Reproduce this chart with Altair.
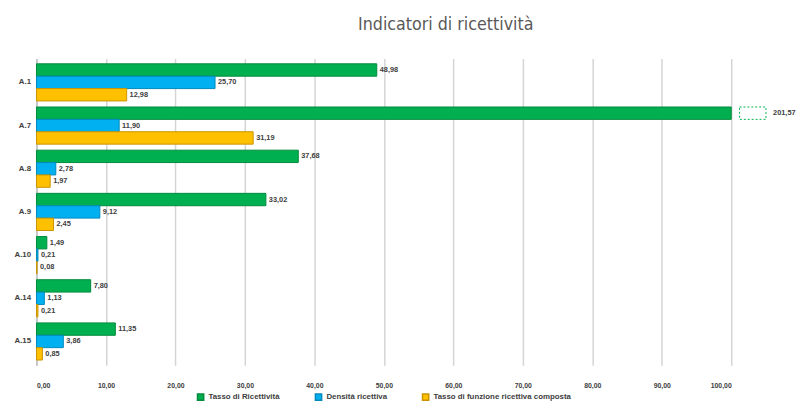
import altair as alt
import pandas as pd

categories = ["A.1", "A.7", "A.8", "A.9", "A.10", "A.14", "A.15"]
series = ["Tasso di Ricettività", "Densità ricettiva", "Tasso di funzione ricettiva composta"]
tasso_ricettivita = [48.98, 201.57, 37.68, 33.02, 1.49, 7.80, 11.35]
densita_ricettiva = [25.70, 11.90, 2.78, 9.12, 0.21, 1.13, 3.86]
tasso_funzione = [12.98, 31.19, 1.97, 2.45, 0.08, 0.21, 0.85]
colors = ["#00B050", "#00B0F0", "#FFC000"]
strokes = ["#008a3c", "#0089bb", "#c99400"]
x_ticks = [0, 10, 20, 30, 40, 50, 60, 70, 80, 90, 100]

rows = []
for s, vals in zip(series, [tasso_ricettivita, densita_ricettiva, tasso_funzione]):
    for c, v in zip(categories, vals):
        rows.append({"cat": c, "serie": s, "value": v})
df = pd.DataFrame(rows)

base = alt.Chart(df).transform_calculate(
    xb="min(datum.value, 100)",
    xt="datum.value > 100 ? 105.6 : datum.value",
    lbl="replace(format(datum.value, '.2f'), '.', ',')",
)

y_enc = alt.Y("cat:N", sort=categories, title=None,
              scale=alt.Scale(paddingInner=0.14, paddingOuter=0.12),
              axis=alt.Axis(labelFont="Liberation Sans", labelFontSize=8, labelFontWeight="bold",
                            labelColor="#404040", ticks=False, domain=True, domainColor="#bfbfbf",
                            domainWidth=1.5, labelPadding=6, minExtent=24, maxExtent=24))
yoff = alt.YOffset("serie:N", sort=series, scale=alt.Scale(paddingInner=0.0))

x_scale = alt.Scale(domain=[0, 100], nice=False, zero=True)

bars = base.mark_bar(strokeWidth=1, clip=False).encode(
    x=alt.X("xb:Q", scale=x_scale, title=None,
            axis=alt.Axis(values=x_ticks, labelExpr="replace(format(datum.value, '.2f'), '.', ',')",
                          labelFont="Liberation Sans", labelFontSize=7, labelFontWeight="bold",
                          labelColor="#404040", grid=True, gridColor="#d4d4d4", gridWidth=1.5,
                          domain=False, ticks=False, labelPadding=17)),
    y=y_enc,
    yOffset=yoff,
    color=alt.Color("serie:N", sort=series, scale=alt.Scale(domain=series, range=colors),
                    legend=alt.Legend(title=None, orient="none", legendX=163, legendY=340,
                                      direction="horizontal",
                                      symbolType="square", symbolSize=40, labelFont="Liberation Sans",
                                      labelFontSize=8, labelFontWeight="bold", labelColor="#404040",
                                      columnPadding=32)),
    stroke=alt.Stroke("serie:N", sort=series, scale=alt.Scale(domain=series, range=strokes), legend=None),
)

over = base.transform_filter("datum.value > 100").transform_calculate(
    b0="101.2", b1="105.0"
).mark_bar(fill="white", stroke="#00B050", strokeDash=[2, 2], strokeWidth=1, clip=False).encode(
    x=alt.X("b0:Q", scale=x_scale),
    x2="b1:Q",
    y=y_enc,
    yOffset=yoff,
)

labels = base.mark_text(align="left", baseline="middle", dx=3, font="Liberation Sans",
                        fontSize=7.5, fontWeight="bold", color="#404040", clip=False).encode(
    x=alt.X("xt:Q", scale=x_scale),
    y=y_enc,
    yOffset=yoff,
    text="lbl:N",
)

chart = alt.layer(bars, over, labels).properties(
    width=707, height=312,
    padding={"left": 5, "top": 5, "right": 5, "bottom": 0},
    title=alt.Title("Indicatori di ricettività",
                    font="'DejaVu Sans Condensed', 'Liberation Sans Narrow', 'Roboto Condensed', sans-serif",
                    fontSize=18, fontWeight="normal", color="#595959", anchor="middle", dx=63, offset=25),
).configure_view(stroke=None)

chart.save("out.html", embed_options={"renderer": "svg", "actions": False})
